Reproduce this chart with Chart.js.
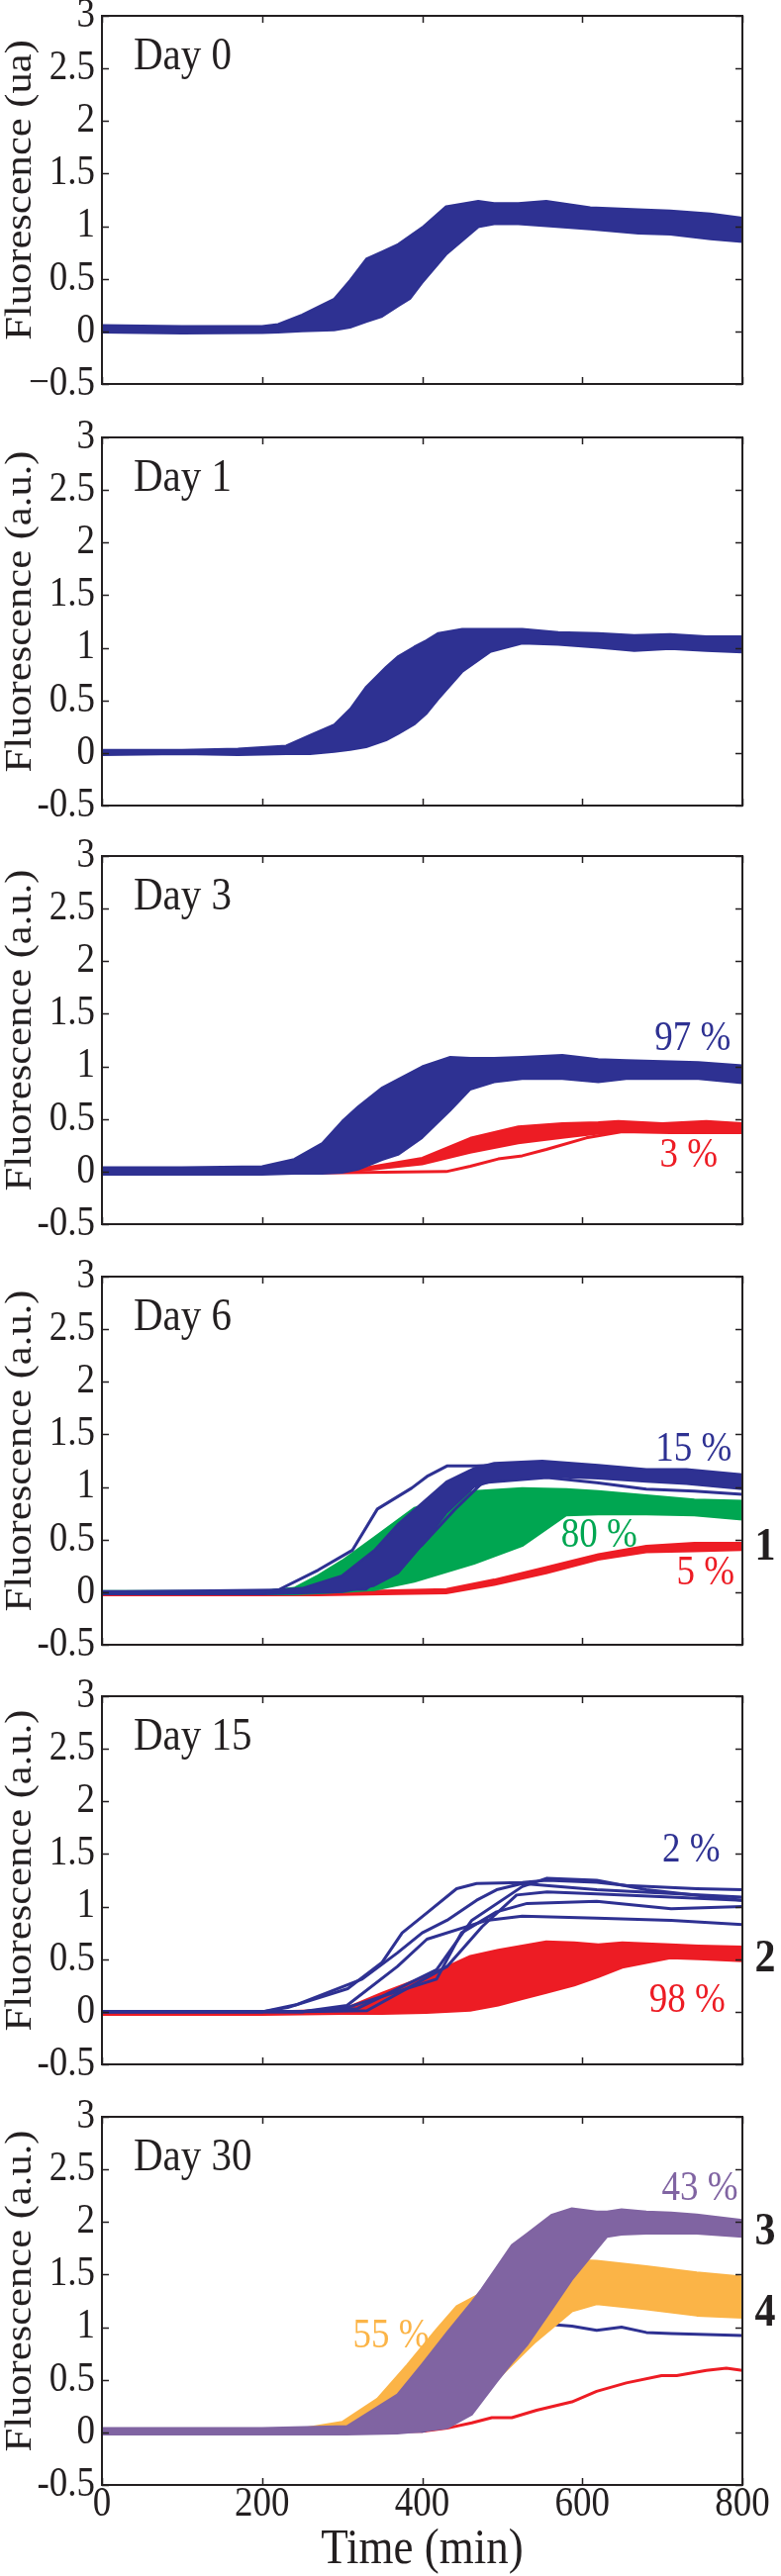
<!DOCTYPE html>
<html><head><meta charset="utf-8">
<script src="https://cdn.jsdelivr.net/npm/chart.js@4/dist/chart.umd.min.js"></script>
<style>
html,body{margin:0;padding:0;background:#fff;}
#wrap{position:relative;width:789px;height:2603px;overflow:hidden;background:#fff;}
canvas{position:absolute;left:0;}
</style></head><body><div id="wrap"></div>
<script>
// ---------- axis ticks / labels ----------
const xTicks = [0, 200, 400, 600, 800];
const xTickLabels = ['0', '200', '400', '600', '800'];
const yTicks = [-0.5, 0, 0.5, 1, 1.5, 2, 2.5, 3];
const yTickLabelsDay0 = ['\u22120.5', '0', '0.5', '1', '1.5', '2', '2.5', '3'];
const yTickLabels = ['-0.5', '0', '0.5', '1', '1.5', '2', '2.5', '3'];
const xTitle = 'Time (min)';
const yTitleDay0 = 'Fluorescence (ua)';
const yTitle = 'Fluorescence (a.u.)';
const dayNames = ['Day 0', 'Day 1', 'Day 3', 'Day 6', 'Day 15', 'Day 30'];

// ---------- Day 0 (band of blue traces) ----------
const d0Time  = [0, 100, 200, 220, 250, 290, 310, 330, 350, 370, 385, 400, 430, 470, 490, 520, 555, 610, 670, 710, 760, 800];
const d0Upper = [0.06, 0.05, 0.05, 0.07, 0.16, 0.31, 0.49, 0.69, 0.76, 0.83, 0.91, 0.99, 1.19, 1.24, 1.22, 1.22, 1.24, 1.18, 1.16, 1.15, 1.12, 1.08];
const d0Lower = [-0.01, -0.02, -0.015, -0.01, 0.0, 0.01, 0.035, 0.09, 0.14, 0.24, 0.31, 0.46, 0.73, 0.99, 1.02, 1.02, 1.0, 0.97, 0.93, 0.92, 0.875, 0.85];

// ---------- Day 1 ----------
const d1Time  = [0, 100, 170, 230, 260, 290, 310, 330, 355, 370, 390, 405, 420, 450, 485, 525, 570, 620, 665, 710, 755, 800];
const d1Upper = [0.03, 0.03, 0.04, 0.07, 0.17, 0.27, 0.42, 0.63, 0.82, 0.92, 1.01, 1.07, 1.14, 1.18, 1.18, 1.18, 1.15, 1.14, 1.12, 1.13, 1.11, 1.11];
const d1Lower = [-0.02, -0.01, -0.02, -0.01, -0.01, 0.01, 0.03, 0.055, 0.12, 0.18, 0.27, 0.37, 0.51, 0.77, 0.96, 1.04, 1.03, 1.0, 0.97, 0.99, 0.97, 0.955];

// ---------- Day 3 ----------
const d3Time      = [0, 100, 200, 240, 275, 300, 320, 350, 370, 400, 435, 460, 490, 525, 575, 620, 655, 700, 745, 800];
const d3BlueUpper = [0.04, 0.04, 0.05, 0.12, 0.27, 0.48, 0.62, 0.80, 0.88, 1.0, 1.09, 1.08, 1.08, 1.09, 1.11, 1.07, 1.06, 1.05, 1.04, 1.01];
const d3BlueLower = [-0.03, -0.03, -0.03, -0.02, -0.02, -0.01, 0.02, 0.11, 0.16, 0.32, 0.58, 0.78, 0.85, 0.88, 0.88, 0.85, 0.88, 0.88, 0.88, 0.84];
const d3RedTime   = [0, 300, 400, 460, 520, 575, 620, 645, 700, 755, 800];
const d3RedUpper  = [0.0, 0.0, 0.13, 0.32, 0.43, 0.46, 0.47, 0.48, 0.46, 0.48, 0.46];
const d3RedLower  = [-0.02, -0.01, 0.07, 0.18, 0.27, 0.32, 0.36, 0.38, 0.38, 0.37, 0.37];
const d3RedLineTime = [0, 300, 430, 460, 495, 525, 555, 605, 650, 710, 800];
const d3RedLine     = [-0.02, -0.01, 0.0, 0.05, 0.12, 0.15, 0.21, 0.32, 0.38, 0.37, 0.37];

// ---------- Day 6 ----------
const d6BlueTime  = [0, 200, 250, 300, 340, 370, 400, 430, 465, 490, 550, 620, 680, 730, 800];
const d6BlueUpper = [0.01, 0.01, 0.04, 0.16, 0.40, 0.65, 0.85, 1.05, 1.18, 1.23, 1.25, 1.21, 1.17, 1.17, 1.12];
const d6BlueLower = [-0.02, -0.02, -0.01, 0.0, 0.06, 0.18, 0.45, 0.75, 1.0, 1.06, 1.10, 1.08, 1.05, 1.03, 0.98];
const d6BlueOutTime = [0, 200, 220, 270, 313, 344, 387, 406, 431, 468, 500];
const d6BlueOut     = [0.0, 0.0, 0.02, 0.21, 0.40, 0.79, 0.99, 1.10, 1.20, 1.20, 1.21];
const d6BlueLowTime = [0, 330, 400, 440, 475, 556, 618, 680, 740, 800];
const d6BlueLow     = [0.0, 0.03, 0.45, 0.78, 1.04, 1.09, 1.04, 0.98, 0.96, 0.93];
const d6GreenTime  = [0, 200, 240, 270, 300, 340, 390, 430, 465, 525, 580, 620, 680, 740, 800];
const d6GreenUpper = [0.01, 0.01, 0.04, 0.16, 0.30, 0.52, 0.80, 0.88, 0.96, 0.99, 0.98, 0.96, 0.92, 0.88, 0.87];
const d6GreenLower = [-0.02, -0.02, -0.02, -0.01, 0.0, 0.02, 0.10, 0.19, 0.27, 0.44, 0.73, 0.74, 0.74, 0.73, 0.69];
const d6RedTime  = [0, 270, 430, 490, 555, 620, 680, 740, 800];
const d6RedUpper = [0.0, 0.0, 0.03, 0.12, 0.24, 0.36, 0.44, 0.47, 0.47];
const d6RedLower = [-0.03, -0.03, -0.01, 0.07, 0.18, 0.31, 0.38, 0.39, 0.40];

// ---------- Day 15 ----------
const d15RedTime  = [0, 200, 300, 350, 405, 460, 495, 525, 555, 590, 620, 650, 710, 745, 800];
const d15RedUpper = [0.0, 0.0, 0.02, 0.18, 0.34, 0.53, 0.59, 0.63, 0.67, 0.66, 0.64, 0.66, 0.64, 0.63, 0.62];
const d15RedLower = [-0.03, -0.03, -0.02, -0.02, -0.01, 0.01, 0.06, 0.12, 0.18, 0.25, 0.33, 0.42, 0.51, 0.50, 0.48];
const d15Blue1Time = [0, 200, 232, 307, 350, 375, 406, 443, 468, 525, 556, 618, 655, 743, 800];
const d15Blue1     = [0.0, 0.0, 0.04, 0.22, 0.47, 0.75, 0.94, 1.17, 1.22, 1.23, 1.25, 1.23, 1.20, 1.17, 1.16];
const d15Blue2Time = [0, 200, 244, 325, 369, 400, 431, 468, 493, 525, 618, 800];
const d15Blue2     = [0.0, 0.0, 0.07, 0.31, 0.56, 0.75, 0.87, 1.06, 1.16, 1.22, 1.16, 1.09];
const d15Blue3Time = [0, 250, 306, 369, 406, 481, 525, 618, 711, 800];
const d15Blue3     = [0.0, 0.0, 0.06, 0.43, 0.69, 0.87, 0.91, 0.89, 0.87, 0.83];
const d15Blue4Time = [0, 250, 306, 418, 449, 493, 531, 618, 711, 800];
const d15Blue4     = [0.0, 0.0, 0.04, 0.31, 0.75, 0.95, 1.03, 1.05, 0.98, 1.00];
const d15Blue5Time = [0, 250, 319, 418, 462, 525, 556, 618, 680, 800];
const d15Blue5     = [0.0, 0.0, 0.03, 0.40, 0.87, 1.19, 1.27, 1.25, 1.16, 1.06];
const d15Blue6Time = [0, 250, 331, 431, 475, 518, 556, 618, 711, 800];
const d15Blue6     = [0.0, 0.0, 0.01, 0.43, 0.81, 1.11, 1.14, 1.12, 1.09, 1.06];

// ---------- Day 30 ----------
const d30PurpleTime  = [0, 200, 306, 369, 400, 431, 462, 474, 493, 512, 531, 562, 587, 618, 631, 649, 680, 711, 743, 800];
const d30PurpleUpper = [0.04, 0.04, 0.06, 0.36, 0.65, 0.95, 1.24, 1.36, 1.57, 1.78, 1.89, 2.07, 2.13, 2.10, 2.10, 2.12, 2.10, 2.09, 2.07, 2.02];
const d30PurpleLower = [-0.02, -0.02, -0.02, -0.01, 0.01, 0.04, 0.17, 0.29, 0.48, 0.66, 0.83, 1.17, 1.45, 1.74, 1.86, 1.88, 1.89, 1.89, 1.89, 1.86];
const d30OrangeTime  = [0, 200, 244, 300, 344, 381, 418, 443, 468, 500, 540, 587, 618, 680, 743, 800];
const d30OrangeUpper = [0.01, 0.01, 0.03, 0.10, 0.32, 0.64, 0.98, 1.20, 1.30, 1.40, 1.55, 1.64, 1.63, 1.58, 1.52, 1.48];
const d30OrangeLower = [-0.01, -0.01, -0.01, 0.0, 0.0, 0.03, 0.10, 0.20, 0.30, 0.55, 0.85, 1.15, 1.22, 1.17, 1.11, 1.09];
const d30BlueTime = [0, 400, 440, 480, 512, 531, 556, 587, 618, 649, 680, 711, 800];
const d30Blue     = [0.0, 0.01, 0.1, 0.55, 0.89, 0.95, 1.03, 1.01, 0.97, 1.0, 0.95, 0.94, 0.92];
const d30RedTime  = [0, 400, 431, 462, 487, 512, 543, 587, 618, 655, 699, 718, 755, 780, 800];
const d30Red      = [0.0, 0.01, 0.04, 0.09, 0.14, 0.14, 0.21, 0.29, 0.39, 0.47, 0.54, 0.54, 0.59, 0.61, 0.59];

// ---------- text annotations (data coordinates) ----------
const d3Notes  = [['97 %', 738, 1.26, 'blue'], ['3 %', 733, 0.15, 'red']];
const d6Notes  = [['15 %', 739, 1.35, 'blue'], ['80 %', 621, 0.535, 'green'], ['5 %', 754, 0.177, 'red']];
const d15Notes = [['2 %', 736, 1.53, 'blue'], ['98 %', 731, 0.10, 'red']];
const d30Notes = [['43 %', 747, 2.31, 'purple'], ['55 %', 361, 0.91, 'orange']];
const d6Groups  = [['1', 0.42]];
const d15Groups = [['2', 0.50]];
const d30Groups = [['3', 1.90], ['4', 1.13]];

// ---------- styling ----------
const COLORS = {blue:'#2E3192', red:'#ED1C24', green:'#00A651', purple:'#8064A2', orange:'#FBB447'};
const INK = '#231F20';
const SERIF = "'Liberation Serif','Times New Roman',serif";
const STRETCH = 1.12;               // text in the figure is slightly tall
const PANEL_TOPS = [16, 442, 865, 1290, 1714, 2139];
const PLOT_H = 372;

function S(t, y, color, fill, w){ return {t, y, color, fill, w}; }
const panels = [
  {yTitle: yTitleDay0, yLabels: yTickLabelsDay0, notes: [], groups: [], series: [
    S(d0Time, d0Upper, 'blue', '+1'), S(d0Time, d0Lower, 'blue')]},
  {yTitle: yTitle, yLabels: yTickLabels, notes: [], groups: [], series: [
    S(d1Time, d1Upper, 'blue', '+1'), S(d1Time, d1Lower, 'blue')]},
  {yTitle: yTitle, yLabels: yTickLabels, notes: d3Notes, groups: [], series: [
    S(d3Time, d3BlueUpper, 'blue', '+1'), S(d3Time, d3BlueLower, 'blue'),
    S(d3RedTime, d3RedUpper, 'red', '+1'), S(d3RedTime, d3RedLower, 'red'),
    S(d3RedLineTime, d3RedLine, 'red', false, 3)]},
  {yTitle: yTitle, yLabels: yTickLabels, notes: d6Notes, groups: d6Groups, series: [
    S(d6BlueOutTime, d6BlueOut, 'blue', false, 3),
    S(d6BlueTime, d6BlueUpper, 'blue', '+1'), S(d6BlueTime, d6BlueLower, 'blue'),
    S(d6BlueLowTime, d6BlueLow, 'blue', false, 3),
    S(d6GreenTime, d6GreenUpper, 'green', '+1'), S(d6GreenTime, d6GreenLower, 'green'),
    S(d6RedTime, d6RedUpper, 'red', '+1'), S(d6RedTime, d6RedLower, 'red')]},
  {yTitle: yTitle, yLabels: yTickLabels, notes: d15Notes, groups: d15Groups, series: [
    S(d15Blue1Time, d15Blue1, 'blue', false, 3), S(d15Blue2Time, d15Blue2, 'blue', false, 3),
    S(d15Blue3Time, d15Blue3, 'blue', false, 3), S(d15Blue4Time, d15Blue4, 'blue', false, 3),
    S(d15Blue5Time, d15Blue5, 'blue', false, 3), S(d15Blue6Time, d15Blue6, 'blue', false, 3),
    S(d15RedTime, d15RedUpper, 'red', '+1'), S(d15RedTime, d15RedLower, 'red')]},
  {yTitle: yTitle, yLabels: yTickLabels, notes: d30Notes, groups: d30Groups, series: [
    S(d30PurpleTime, d30PurpleUpper, 'purple', '+1'), S(d30PurpleTime, d30PurpleLower, 'purple'),
    S(d30OrangeTime, d30OrangeUpper, 'orange', '+1'), S(d30OrangeTime, d30OrangeLower, 'orange'),
    S(d30BlueTime, d30Blue, 'blue', false, 3), S(d30RedTime, d30Red, 'red', false, 3)]}
];

// draw text with a slight vertical stretch, anchored at (x, y)
function txt(ctx, s, x, y, font, align, base, rot){
  ctx.save();
  ctx.translate(x, y);
  ctx.scale(1, STRETCH);
  if (rot) ctx.rotate(rot);
  ctx.font = font; ctx.textAlign = align; ctx.textBaseline = base;
  ctx.fillText(s, 0, 0);
  ctx.restore();
}

function panelPlugin(p, i, last){
  return {
    id: 'panelDecor',
    afterDatasetsDraw(chart){
      const {ctx, chartArea: a, scales: {x, y}} = chart;
      ctx.save();
      // frame and inward ticks
      ctx.strokeStyle = INK; ctx.lineWidth = 2;
      ctx.strokeRect(a.left, a.top, a.right - a.left, a.bottom - a.top);
      ctx.beginPath();
      xTicks.forEach(v => { const px = Math.round(x.getPixelForValue(v)) + 0.5;
        ctx.moveTo(px, a.bottom); ctx.lineTo(px, a.bottom - 7);
        ctx.moveTo(px, a.top); ctx.lineTo(px, a.top + 7); });
      yTicks.forEach(v => { const py = Math.round(y.getPixelForValue(v)) + 0.5;
        ctx.moveTo(a.left, py); ctx.lineTo(a.left + 7, py);
        ctx.moveTo(a.right, py); ctx.lineTo(a.right - 7, py); });
      ctx.lineWidth = 1.5; ctx.stroke();
      ctx.fillStyle = INK;
      // y tick labels
      yTicks.forEach((v, k) => txt(ctx, p.yLabels[k], a.left - 7, y.getPixelForValue(v),
        '37px ' + SERIF, 'right', 'middle'));
      // y title
      txt(ctx, p.yTitle, 21, (a.top + a.bottom) / 2 - 10, '38px ' + SERIF, 'center', 'middle', -Math.PI / 2);
      // x labels + title on the bottom panel only
      if (last) {
        xTicks.forEach((v, k) => txt(ctx, xTickLabels[k], x.getPixelForValue(v), a.bottom + 20,
          '37px ' + SERIF, 'center', 'middle'));
        txt(ctx, xTitle, (a.left + a.right) / 2, a.bottom + 66, '45px ' + SERIF, 'center', 'middle');
      }
      // day label
      txt(ctx, dayNames[i], a.left + 32, a.top + 54, '41px ' + SERIF, 'left', 'alphabetic');
      // percentages
      p.notes.forEach(n => { ctx.fillStyle = COLORS[n[3]];
        txt(ctx, n[0], x.getPixelForValue(n[1]), y.getPixelForValue(n[2]), '37px ' + SERIF, 'center', 'middle'); });
      // group numbers
      ctx.fillStyle = INK;
      p.groups.forEach(g => txt(ctx, g[0], a.right + 23, y.getPixelForValue(g[1]), 'bold 42px ' + SERIF, 'center', 'middle'));
      ctx.restore();
    }
  };
}

const wrap = document.getElementById('wrap');
panels.forEach((p, i) => {
  const last = i === panels.length - 1;
  const top = PANEL_TOPS[i] - 30;
  const h = last ? 2603 - top : 432;
  const c = document.createElement('canvas');
  c.width = 789; c.height = h;
  c.style.top = top + 'px'; c.style.width = '789px'; c.style.height = h + 'px';
  wrap.appendChild(c);
  new Chart(c, {
    type: 'line',
    data: { datasets: p.series.map(s => ({
      data: s.t.map((t, k) => ({x: t, y: s.y[k]})),
      borderColor: COLORS[s.color], backgroundColor: COLORS[s.color],
      borderWidth: s.w || 2, pointRadius: 0, tension: 0, fill: s.fill || false,
      borderJoinStyle: 'round', borderCapStyle: 'round'
    }))},
    options: {
      responsive: false, animation: false, devicePixelRatio: 1, events: [],
      layout: {padding: {top: 30, right: 39, bottom: h - 30 - PLOT_H, left: 103}},
      plugins: {legend: {display: false}, tooltip: {enabled: false}},
      scales: {
        x: {type: 'linear', min: 0, max: 800, display: false},
        y: {type: 'linear', min: -0.5, max: 3, display: false}
      }
    },
    plugins: [panelPlugin(p, i, last)]
  });
});
</script></body></html>
